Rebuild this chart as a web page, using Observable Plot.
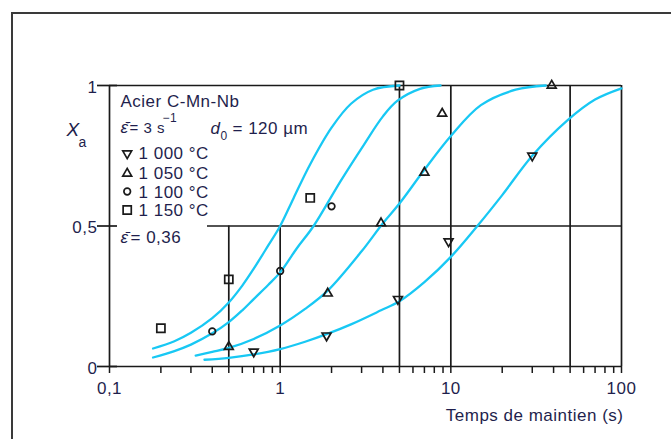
<!DOCTYPE html>
<html><head><meta charset="utf-8">
<script src="https://cdn.jsdelivr.net/npm/d3@7"></script>
<script src="https://cdn.jsdelivr.net/npm/@observablehq/plot@0.6"></script>
<style>
html,body{margin:0;padding:0;background:#fff;overflow:hidden;}
#wrap{position:relative;width:671px;height:439px;overflow:hidden;}
#border{position:absolute;left:11px;top:12px;width:740px;height:520px;border:2px solid #3a3a3a;box-sizing:border-box;pointer-events:none;}
</style></head><body>
<div id="wrap"><div id="chart"></div><div id="border"></div></div>
<script>
// ---- data ----
const temps = ["1 000 °C", "1 050 °C", "1 100 °C", "1 150 °C"];
// measured points [time (s), Xa]
const pts1000 = [[0.7, 0.053], [1.87, 0.11], [4.9, 0.24], [9.7, 0.445], [30, 0.75]];
const pts1050 = [[0.5, 0.07], [1.9, 0.26], [3.9, 0.51], [7, 0.69], [8.9, 0.9], [39, 1.0]];
const pts1100 = [[0.4, 0.125], [1, 0.34], [2, 0.57]];
const pts1150 = [[0.2, 0.136], [0.5, 0.31], [1.5, 0.6], [5, 1.0]];
// fitted curves
const curve1000 = [[0.36, 0.024], [0.5, 0.031], [0.7, 0.043], [1, 0.062], [1.4, 0.088], [1.87, 0.115], [2.6, 0.15], [3.9, 0.2], [5, 0.232], [7, 0.3], [10, 0.39], [14.3, 0.5], [20, 0.61], [30, 0.75], [48, 0.875], [70, 0.95], [100, 0.99]];
const curve1050 = [[0.32, 0.039], [0.4, 0.052], [0.5, 0.066], [0.7, 0.098], [1, 0.146], [1.4, 0.205], [1.9, 0.27], [3, 0.41], [4, 0.51], [5, 0.58], [7, 0.7], [10, 0.82], [15, 0.93], [24, 0.985], [36, 1.0]];
const curve1100 = [[0.18, 0.032], [0.24, 0.055], [0.3, 0.078], [0.4, 0.118], [0.5, 0.158], [0.6, 0.2], [0.7, 0.24], [0.85, 0.29], [1, 0.335], [1.25, 0.42], [1.57, 0.5], [2.26, 0.66], [3.1, 0.79], [4, 0.89], [4.85, 0.945], [6.6, 0.988], [8.7, 1.0]];
const curve1150 = [[0.18, 0.064], [0.24, 0.09], [0.3, 0.12], [0.4, 0.172], [0.5, 0.228], [0.6, 0.288], [0.7, 0.348], [0.85, 0.43], [1, 0.5], [1.2, 0.6], [1.5, 0.72], [2, 0.85], [2.6, 0.935], [3.5, 0.985], [5, 1.0]];
// axes
const xTickLabels = [0.1, 0.5, 1, 5, 10, 50, 100];
const xMinorTicks = [0.1, 0.2, 0.3, 0.4, 0.5, 0.6, 0.7, 0.8, 0.9, 1, 2, 3, 4, 5, 6, 7, 8, 9, 10, 20, 30, 40, 50, 60, 70, 80, 90, 100];
const yTickLabels = [0, 0.5, 1];
const vLinesFull = [5, 10, 50, 100];
const vLinesHalf = [0.5, 1];
const hLineHalfStart = 0.375;

// ---- styles ----
const INK = "#1a1a1a", TEXT = "#1f1f4d", CYAN = "#18c8f4";
const ML = 109, MT = 85, MR = 50, MB = 73;
const fmt = d => String(d).replace(".", ",");
const px = d => d[0], py = d => d[1];

const sq3 = Math.sqrt(3);
const triDown = {draw(ctx, size) {
  const y = -Math.sqrt(size / (sq3 * 3));
  ctx.moveTo(0, -y * 2); ctx.lineTo(-sq3 * y, y); ctx.lineTo(sq3 * y, y); ctx.closePath();
}};
const series = [
  {pts: pts1000, curve: curve1000, symbol: triDown, r: 3.3},
  {pts: pts1050, curve: curve1050, symbol: "triangle", r: 3.3},
  {pts: pts1100, curve: curve1100, symbol: "circle", r: 3.3},
  {pts: pts1150, curve: curve1150, symbol: "square", r: 4.6}
];

function note(str, x, y, extra = {}) {
  return Plot.text([str], {text: d => d, frameAnchor: "top-left", dx: x - ML, dy: y - MT,
    lineAnchor: "bottom", textAnchor: "start", fill: TEXT, fontSize: 17, ...extra});
}

const legendY = [153, 173, 191, 209.5];
const legendBase = [158, 178, 197, 215];

const marks = [
  // frame / grid lines
  Plot.ruleY([0], {stroke: INK, strokeWidth: 1.7}),
  Plot.ruleY([1], {stroke: INK, strokeWidth: 1.7}),
  Plot.ruleY([0.5], {x1: hLineHalfStart, x2: 100, stroke: INK, strokeWidth: 1.7}),
  Plot.ruleX([0.1], {y1: 0, y2: 1, stroke: INK, strokeWidth: 1.7}),
  Plot.ruleX(vLinesFull, {y1: 0, y2: 1, stroke: INK, strokeWidth: 1.7}),
  Plot.ruleX(vLinesHalf, {y1: 0, y2: 0.5, stroke: INK, strokeWidth: 1.7}),
  Plot.ruleY(yTickLabels, {x1: 0.1, x2: 0.1, insetLeft: -12, insetRight: -8, stroke: INK, strokeWidth: 1.7}),
  // axes
  Plot.axisX(xMinorTicks, {tickSize: 7, tickFormat: () => "", stroke: INK, strokeWidth: 1.5, label: null}),
  Plot.axisX(xTickLabels, {tickSize: 0, tickPadding: 15, tickFormat: fmt, fill: TEXT, label: null}),
  Plot.axisY(yTickLabels, {tickSize: 0, tickPadding: 12, tickFormat: fmt, fill: TEXT, label: null, dy: 2}),
  // curves
  ...series.map(s => Plot.line(s.curve, {x: px, y: py, stroke: CYAN, strokeWidth: 2.3, curve: "catmull-rom"})),
  // measured points
  ...series.map(s => Plot.dot(s.pts, {x: px, y: py, symbol: s.symbol, r: s.r, stroke: INK, strokeWidth: 1.7, fill: "none"})),
  // legend markers
  ...series.map((s, i) => Plot.dot([temps[i]], {frameAnchor: "top-left", dx: 126.7 - ML, dy: legendY[i] - MT, symbol: s.symbol, r: s.r, stroke: INK, strokeWidth: 1.7, fill: "none"})),
  ...temps.map((t, i) => note(t, 138, legendBase[i])),
  // annotations
  note("Acier C-Mn-Nb", 120, 106),
  note("ε\u0304\u0307", 120, 132, {fontStyle: "italic"}),
  note("= 3 s", 129, 132, {fontSize: 15}),
  note("−1", 162, 121, {fontSize: 12}),
  note("d", 210, 133, {fontStyle: "italic"}),
  note("0", 220, 139, {fontSize: 12}),
  note("= 120 µm", 232, 133),
  note("ε\u0304", 120, 242, {fontStyle: "italic"}),
  note("= 0,36", 130, 242),
  // axis titles
  note("X", 66, 135, {fontStyle: "italic", fontSize: 19}),
  note("a", 78, 146, {fontSize: 14}),
  Plot.text(["Temps de maintien (s)"], {text: d => d, frameAnchor: "bottom-right", dx: 2, dy: 54, lineAnchor: "bottom", textAnchor: "end", fill: TEXT, fontSize: 17})
];

const chart = Plot.plot({
  width: 671, height: 439,
  marginLeft: ML, marginRight: MR, marginTop: MT, marginBottom: MB,
  x: {type: "log", domain: [0.1, 100]},
  y: {domain: [0, 1]},
  style: {fontFamily: "'Liberation Sans', Arial, sans-serif", fontSize: "17px", letterSpacing: "0.5px", color: INK, background: "white"},
  marks
});
document.getElementById("chart").appendChild(chart);
</script>
</body></html>
